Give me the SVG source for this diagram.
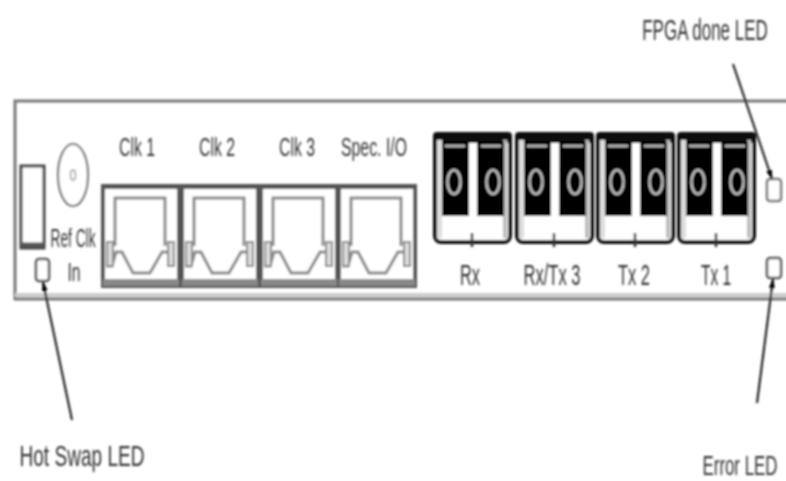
<svg xmlns="http://www.w3.org/2000/svg" width="786" height="481" viewBox="0 0 786 481">
<style>
.t{font-family:"Liberation Sans",Arial,sans-serif;font-size:29px;fill:#333;text-anchor:middle}
.s{font-family:"Liberation Sans",Arial,sans-serif;font-size:26px;fill:#333;text-anchor:middle}
.c{stroke:#222;stroke-width:2.2;fill:none;marker-end:url(#a)}
</style>
<defs>
<filter id="b" x="-5%" y="-5%" width="110%" height="110%"><feGaussianBlur stdDeviation="1.25"/></filter>
<marker id="a" viewBox="0 0 10 8" refX="9" refY="4" markerWidth="10" markerHeight="8" markerUnits="userSpaceOnUse" orient="auto"><path d="M0 1L10 4L0 7Z" fill="#000"/></marker>
<g id="rj">
<rect x="1" y="2" width="76" height="100" fill="#fff" stroke="#555" stroke-width="4"/>
<rect x="-1" y="0" width="80" height="5" fill="#555"/>
<path d="M13 62V14H63V62" fill="none" stroke="#888" stroke-width="3"/>
<path d="M4 82H10L14 68H20L31 89H48L60 68H66L70 82" fill="none" stroke="#888" stroke-width="3"/>
<rect x="5" y="58" width="6" height="24" fill="#ddd" stroke="#888" stroke-width="2"/>
<rect x="66" y="58" width="6" height="24" fill="#ddd" stroke="#888" stroke-width="2"/>
<rect x="1" y="95" width="76" height="7" fill="#888"/>
</g>
<g id="sfp">
<rect x="2" y="2" width="75" height="108" rx="6" fill="#fff" stroke="#111" stroke-width="4"/>
<rect x="0" y="0" width="79" height="11" rx="4" fill="#0a0a0a"/>
<rect x="4" y="8" width="5" height="98" fill="#ddd"/>
<rect x="70" y="8" width="4" height="98" fill="#bbb"/>
<rect x="9" y="9" width="27" height="75" fill="#050505"/>
<rect x="44" y="9" width="27" height="75" fill="#050505"/>
<path d="M12 14H32M48 14H68" stroke="#bbb" stroke-width="2.5"/>
<ellipse cx="21" cy="50" rx="6.5" ry="12" fill="none" stroke="#ccc" stroke-width="2.2"/>
<ellipse cx="60" cy="50" rx="6.5" ry="12" fill="none" stroke="#ccc" stroke-width="2.2"/>
<path d="M39 101V115" stroke="#333" stroke-width="2.5"/>
</g>
</defs>
<rect width="786" height="481" fill="#fff"/>
<g filter="url(#b)">
<g id="panel">
<path d="M790 101H15V299H790" fill="none" stroke="#777" stroke-width="3"/>
<path d="M15 295H790" stroke="#ccc" stroke-width="4"/>
</g>
<g id="switch">
<rect x="21" y="166" width="23" height="82" fill="#fff" stroke="#444" stroke-width="3"/>
<path d="M21 245H44" stroke="#555" stroke-width="5"/>
</g>
<g id="ref-clk">
<ellipse cx="73" cy="175" rx="15" ry="31" fill="#fff" stroke="#777" stroke-width="2.2"/>
<ellipse cx="73" cy="175" rx="2.5" ry="5" fill="#fff" stroke="#999" stroke-width="1.5"/>
<text class="s" x="73" y="247" textLength="45" lengthAdjust="spacingAndGlyphs">Ref Clk</text>
<text class="s" x="74" y="281" textLength="13" lengthAdjust="spacingAndGlyphs">In</text>
</g>
<g id="hot-swap-led"><rect x="36" y="259" width="13" height="22" rx="3" fill="#fff" stroke="#555" stroke-width="2.5"/></g>
<g id="clk1"><use href="#rj" x="102" y="184"/><text class="s" x="137" y="156" textLength="36" lengthAdjust="spacingAndGlyphs">Clk 1</text></g>
<g id="clk2"><use href="#rj" x="181" y="184"/><text class="s" x="217" y="156" textLength="36" lengthAdjust="spacingAndGlyphs">Clk 2</text></g>
<g id="clk3"><use href="#rj" x="260" y="184"/><text class="s" x="297" y="156" textLength="36" lengthAdjust="spacingAndGlyphs">Clk 3</text></g>
<g id="spec-io"><use href="#rj" x="338" y="184"/><text class="s" x="374" y="156" textLength="66" lengthAdjust="spacingAndGlyphs">Spec. I/O</text></g>
<g id="rx"><use href="#sfp" x="433" y="132"/><text class="t" x="470" y="285" textLength="20" lengthAdjust="spacingAndGlyphs">Rx</text></g>
<g id="rxtx3"><use href="#sfp" x="515" y="132"/><text class="t" x="552" y="285" textLength="57" lengthAdjust="spacingAndGlyphs">Rx/Tx 3</text></g>
<g id="tx2"><use href="#sfp" x="596" y="132"/><text class="t" x="634" y="285" textLength="32" lengthAdjust="spacingAndGlyphs">Tx 2</text></g>
<g id="tx1"><use href="#sfp" x="677" y="132"/><text class="t" x="716" y="285" textLength="30" lengthAdjust="spacingAndGlyphs">Tx 1</text></g>
<g id="fpga-done-led">
<rect x="767" y="179" width="14" height="22" rx="3" fill="#fff" stroke="#777" stroke-width="2.5"/>
<text class="t" transform="translate(705 40) scale(.586 1)">FPGA done LED</text>
</g>
<g id="error-led">
<rect x="767" y="258" width="14" height="20" rx="3" fill="#fff" stroke="#555" stroke-width="2.5"/>
<text class="t" style="font-size:27px" transform="translate(740 475) scale(.625 1)">Error LED</text>
</g>
<g id="hot-swap-label"><text class="t" x="82" y="466" textLength="125" lengthAdjust="spacingAndGlyphs">Hot Swap LED</text></g>
<g id="connectors">
<path class="c" d="M733 64L772 179"/>
<path class="c" d="M72 420L43 282"/>
<path class="c" d="M757 403L773 279"/>
</g>
</g>
</svg>
